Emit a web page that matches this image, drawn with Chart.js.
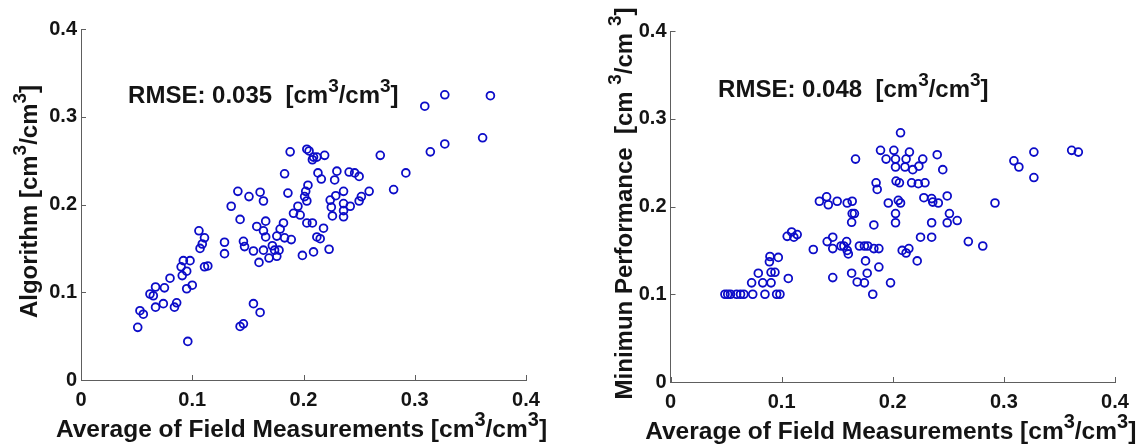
<!DOCTYPE html>
<html>
<head>
<meta charset="utf-8">
<script src="https://cdn.jsdelivr.net/npm/chart.js@4/dist/chart.umd.min.js"></script>
<style>
  html, body { margin: 0; padding: 0; background: #ffffff; }
  #left { position: absolute; left: 0; top: 0; }
  #right { position: absolute; left: 580px; top: 0; }
</style>
</head>
<body>
<canvas id="left" width="580" height="444"></canvas>
<canvas id="right" width="563" height="444"></canvas>
<script>
// Axis ticks shared by both panels
const tickValues = [0, 0.1, 0.2, 0.3, 0.4];
const tickLabels = ['0', '0.1', '0.2', '0.3', '0.4'];

// Left panel: field average vs algorithm
const fieldAvgA = [
  0.183, 0.141, 0.151, 0.161, 0.164, 0.186, 0.135, 0.143, 0.166, 0.158,
  0.164, 0.166, 0.182, 0.179, 0.176, 0.183, 0.189, 0.195, 0.191, 0.197,
  0.201, 0.204, 0.203, 0.199, 0.106, 0.111, 0.109, 0.107, 0.129, 0.129,
  0.146, 0.147, 0.155, 0.164, 0.172, 0.174, 0.178, 0.176, 0.169, 0.160,
  0.092, 0.098, 0.090, 0.095, 0.091, 0.111, 0.114, 0.080, 0.100, 0.095,
  0.067, 0.075, 0.062, 0.065, 0.074, 0.067, 0.086, 0.084, 0.053, 0.056,
  0.051, 0.096, 0.155, 0.161, 0.143, 0.146, 0.309, 0.327, 0.368, 0.361,
  0.327, 0.314, 0.269, 0.292, 0.281, 0.259, 0.252, 0.250, 0.236, 0.241,
  0.246, 0.250, 0.230, 0.228, 0.229, 0.224, 0.225, 0.226, 0.236, 0.236,
  0.236, 0.242, 0.203, 0.205, 0.208, 0.209, 0.212, 0.219, 0.188, 0.213,
  0.216, 0.202, 0.203, 0.208, 0.218, 0.212, 0.215, 0.209, 0.223
];
const algorithmVals = [
  0.235, 0.215, 0.209, 0.214, 0.204, 0.213, 0.198, 0.183, 0.181, 0.175,
  0.170, 0.163, 0.179, 0.172, 0.164, 0.162, 0.160, 0.198, 0.190, 0.188,
  0.209, 0.222, 0.179, 0.142, 0.170, 0.162, 0.155, 0.150, 0.157, 0.144,
  0.158, 0.152, 0.147, 0.148, 0.153, 0.148, 0.148, 0.141, 0.139, 0.134,
  0.136, 0.136, 0.129, 0.124, 0.119, 0.129, 0.130, 0.116, 0.108, 0.104,
  0.106, 0.105, 0.098, 0.096, 0.087, 0.083, 0.088, 0.083, 0.079, 0.075,
  0.060, 0.044, 0.087, 0.077, 0.061, 0.064, 0.312, 0.325, 0.324, 0.276,
  0.269, 0.260, 0.256, 0.236, 0.217, 0.215, 0.209, 0.204, 0.215, 0.237,
  0.236, 0.232, 0.238, 0.228, 0.210, 0.205, 0.197, 0.187, 0.201, 0.193,
  0.186, 0.198, 0.263, 0.261, 0.251, 0.254, 0.254, 0.256, 0.260, 0.236,
  0.229, 0.215, 0.204, 0.179, 0.173, 0.163, 0.161, 0.146, 0.149
];

// Right panel: field average vs minimum performance
const fieldAvgB = [
  0.049, 0.0515, 0.054, 0.0595, 0.063, 0.066, 0.074, 0.085, 0.0955, 0.0985,
  0.182, 0.073, 0.079, 0.083, 0.0905, 0.0905, 0.094, 0.089, 0.0895, 0.097,
  0.106, 0.105, 0.109, 0.111, 0.114, 0.1285, 0.134, 0.1405, 0.142, 0.150,
  0.141, 0.146, 0.146, 0.146, 0.1535, 0.156, 0.1585, 0.159, 0.160, 0.159,
  0.1635, 0.1635, 0.1655, 0.163, 0.1665, 0.163, 0.168, 0.1745, 0.177, 0.1755,
  0.170, 0.1745, 0.1775, 0.183, 0.1875, 0.1875, 0.183, 0.185, 0.186, 0.189,
  0.194, 0.201, 0.2025, 0.2025, 0.207, 0.211, 0.212, 0.215, 0.218, 0.2235,
  0.227, 0.240, 0.245, 0.203, 0.206, 0.217, 0.223, 0.229, 0.196, 0.205,
  0.207, 0.2025, 0.2025, 0.228, 0.235, 0.236, 0.241, 0.249, 0.251, 0.249,
  0.258, 0.235, 0.225, 0.235, 0.2085, 0.212, 0.2145, 0.222, 0.198, 0.292,
  0.268, 0.281, 0.309, 0.3135, 0.327, 0.327, 0.361, 0.367
];
const minPerfVals = [
  0.100, 0.100, 0.100, 0.100, 0.100, 0.100, 0.100, 0.100, 0.100, 0.100,
  0.100, 0.113, 0.124, 0.113, 0.113, 0.125, 0.125, 0.137, 0.143, 0.142,
  0.118, 0.166, 0.171, 0.165, 0.168, 0.151, 0.206, 0.211, 0.202, 0.206,
  0.160, 0.165, 0.152, 0.119, 0.155, 0.155, 0.160, 0.150, 0.146, 0.204,
  0.206, 0.192, 0.192, 0.182, 0.254, 0.124, 0.114, 0.113, 0.124, 0.138,
  0.155, 0.155, 0.155, 0.152, 0.152, 0.131, 0.179, 0.227, 0.2195, 0.264,
  0.254, 0.264, 0.254, 0.245, 0.284, 0.245, 0.254, 0.262, 0.242, 0.246,
  0.254, 0.259, 0.242, 0.229, 0.227, 0.227, 0.226, 0.227, 0.204, 0.207,
  0.204, 0.192, 0.1815, 0.210, 0.209, 0.205, 0.204, 0.212, 0.192, 0.1815,
  0.184, 0.1815, 0.165, 0.165, 0.150, 0.147, 0.152, 0.138, 0.113, 0.204,
  0.160, 0.155, 0.252, 0.245, 0.262, 0.233, 0.264, 0.262
];

const FONT = '"Liberation Sans", Arial, sans-serif';
const TEXT_COLOR = '#141414';
const AXIS_COLOR = '#5e5e5e';
const MARKER_COLOR = 'rgb(12, 12, 200)';

// draws a line of text where some parts are raised superscripts
function drawRich(ctx, parts, x, y, size, align) {
  const mainFont = 'bold ' + size + 'px ' + FONT;
  const supFont = 'bold ' + Math.round(size * 0.8) + 'px ' + FONT;
  let total = 0;
  const widths = parts.map(p => {
    ctx.font = p.sup ? supFont : mainFont;
    const w = ctx.measureText(p.text).width;
    total += w;
    return w;
  });
  let cx = align === 'center' ? x - total / 2 : x;
  ctx.textAlign = 'left';
  ctx.textBaseline = 'alphabetic';
  parts.forEach((p, i) => {
    ctx.font = p.sup ? supFont : mainFont;
    ctx.fillText(p.text, cx, p.sup ? y - size * 0.45 : y);
    cx += widths[i];
  });
}

function unitParts(prefix, gap) {
  return [
    {text: prefix + '[cm' + gap}, {text: '3', sup: true},
    {text: '/cm' + gap}, {text: '3', sup: true}, {text: ']'}
  ];
}

function makeChart(canvasId, xs, ys, cfg) {
  const points = xs.map((x, i) => ({x: x, y: ys[i]}));

  const decorations = {
    id: 'decorations',
    afterDraw(chart) {
      const ctx = chart.ctx;
      const area = chart.chartArea;
      const sx = chart.scales.x;
      const sy = chart.scales.y;
      ctx.save();

      // inward tick marks, MATLAB style
      ctx.strokeStyle = AXIS_COLOR;
      ctx.lineWidth = 1;
      ctx.beginPath();
      tickValues.forEach(v => {
        const px = Math.round(sx.getPixelForValue(v)) + 0.5;
        ctx.moveTo(px, area.bottom);
        ctx.lineTo(px, area.bottom - 5);
        const py = Math.round(sy.getPixelForValue(v)) + 0.5;
        ctx.moveTo(area.left, py);
        ctx.lineTo(area.left + 5, py);
      });
      ctx.stroke();

      ctx.fillStyle = TEXT_COLOR;

      // RMSE annotation, anchored in data coordinates
      drawRich(ctx, unitParts('RMSE: ' + cfg.rmse + '  ', ''),
        sx.getPixelForValue(cfg.rmseAt[0]), sy.getPixelForValue(cfg.rmseAt[1]), 24, 'left');

      // x axis title
      drawRich(ctx, unitParts('Average of Field Measurements ', ''),
        (area.left + area.right) / 2 - 2, area.bottom + 57, 24.5, 'center');

      // y axis title, rotated
      ctx.translate(area.left - cfg.yTitleOffset, (area.top + area.bottom) / 2 - 3);
      ctx.rotate(-Math.PI / 2);
      drawRich(ctx, unitParts(cfg.yTitle, cfg.unitGap), 0, 0, 24, 'center');
      ctx.restore();
    }
  };

  return new Chart(document.getElementById(canvasId), {
    type: 'scatter',
    data: {
      datasets: [{
        data: points,
        pointStyle: 'circle',
        pointRadius: 3.9,
        pointBorderWidth: 1.8,
        borderColor: MARKER_COLOR,
        backgroundColor: 'rgba(0,0,0,0)'
      }]
    },
    options: {
      responsive: false,
      animation: false,
      layout: {
        padding: {left: 0, top: cfg.pad.top, right: cfg.pad.right, bottom: 0}
      },
      plugins: {
        legend: {display: false},
        tooltip: {enabled: false}
      },
      scales: {
        x: {
          type: 'linear',
          min: 0,
          max: 0.4,
          afterBuildTicks: s => { s.ticks = tickValues.map(v => ({value: v})); },
          afterFit: s => { s.height = cfg.pad.bottom; },
          grid: {display: false, drawTicks: false, tickLength: 0},
          border: {display: true, color: AXIS_COLOR, width: 1},
          ticks: {
            padding: 8,
            color: TEXT_COLOR,
            font: {family: FONT, size: 20, weight: 'bold'},
            maxRotation: 0,
            callback: (v, i) => tickLabels[i]
          }
        },
        y: {
          type: 'linear',
          min: 0,
          max: 0.4,
          afterBuildTicks: s => { s.ticks = tickValues.map(v => ({value: v})); },
          afterFit: s => { s.width = cfg.pad.left; },
          grid: {display: false, drawTicks: false, tickLength: 0},
          border: {display: true, color: AXIS_COLOR, width: 1},
          ticks: {
            padding: 4,
            color: TEXT_COLOR,
            font: {family: FONT, size: 20, weight: 'bold'},
            callback: (v, i) => tickLabels[i]
          }
        }
      }
    },
    plugins: [decorations]
  });
}

makeChart('left', fieldAvgA, algorithmVals, {
  pad: {left: 81, top: 29, right: 54, bottom: 64},
  rmse: '0.035',
  rmseAt: [0.0423, 0.3157],
  yTitle: 'Algorithm ',
  unitGap: '',
  yTitleOffset: 44
});

makeChart('right', fieldAvgB, minPerfVals, {
  pad: {left: 90.5, top: 31, right: 28, bottom: 62},
  rmse: '0.048',
  rmseAt: [0.0428, 0.3248],
  yTitle: 'Minimun Performance  ',
  unitGap: ' ',
  yTitleOffset: 39
});
</script>
</body>
</html>
